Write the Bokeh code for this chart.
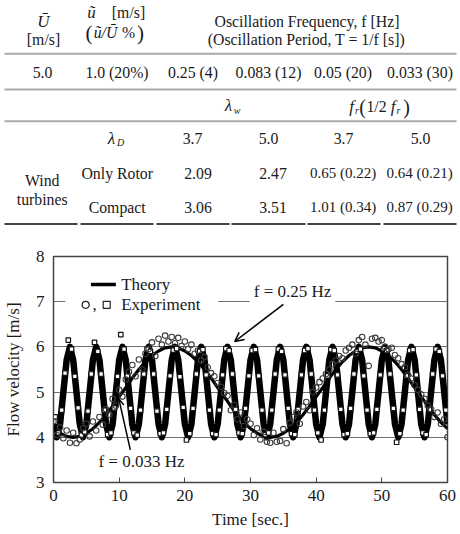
from bokeh.plotting import figure
from bokeh.layouts import column
from bokeh.models import Range1d, Label, Arrow, OpenHead, BoxAnnotation, FixedTicker
from bokeh.core.properties import value
from bokeh.embed import file_html
from bokeh.resources import INLINE

SERIF = "Liberation Serif"

# ---------------- table data ----------------
u_mean = "5.0"
u_amp = "1.0 (20%)"
freq_period = ["0.25 (4)", "0.083 (12)", "0.05 (20)", "0.033 (30)"]
lambda_d = ["3.7", "5.0", "3.7", "5.0"]
turbine_rows = ["Only Rotor", "Compact"]
only_rotor = ["2.09", "2.47", "0.65 (0.22)", "0.64 (0.21)"]
compact = ["3.06", "3.51", "1.01 (0.34)", "0.87 (0.29)"]

# ---------------- chart data ----------------
t_half = [0, 0.5, 1, 1.5, 2, 2.5, 3, 3.5, 4, 4.5, 5, 5.5, 6, 6.5, 7, 7.5, 8, 8.5, 9, 9.5,
          10, 10.5, 11, 11.5, 12, 12.5, 13, 13.5, 14, 14.5, 15, 15.5, 16, 16.5, 17, 17.5, 18, 18.5, 19, 19.5,
          20, 20.5, 21, 21.5, 22, 22.5, 23, 23.5, 24, 24.5, 25, 25.5, 26, 26.5, 27, 27.5, 28, 28.5, 29, 29.5,
          30, 30.5, 31, 31.5, 32, 32.5, 33, 33.5, 34, 34.5, 35, 35.5, 36, 36.5, 37, 37.5, 38, 38.5, 39, 39.5,
          40, 40.5, 41, 41.5, 42, 42.5, 43, 43.5, 44, 44.5, 45, 45.5, 46, 46.5, 47, 47.5, 48, 48.5, 49, 49.5,
          50, 50.5, 51, 51.5, 52, 52.5, 53, 53.5, 54, 54.5, 55, 55.5, 56, 56.5, 57, 57.5, 58, 58.5, 59, 59.5, 60]

# theory, f = 0.25 Hz
theory_025 = [4.29, 4.00, 4.29, 5.00, 5.71, 6.00, 5.71, 5.00, 4.29, 4.00, 4.29, 5.00, 5.71, 6.00, 5.71, 5.00,
              4.29, 4.00, 4.29, 5.00, 5.71, 6.00, 5.71, 5.00, 4.29, 4.00, 4.29, 5.00, 5.71, 6.00, 5.71, 5.00,
              4.29, 4.00, 4.29, 5.00, 5.71, 6.00, 5.71, 5.00, 4.29, 4.00, 4.29, 5.00, 5.71, 6.00, 5.71, 5.00,
              4.29, 4.00, 4.29, 5.00, 5.71, 6.00, 5.71, 5.00, 4.29, 4.00, 4.29, 5.00, 5.71, 6.00, 5.71, 5.00,
              4.29, 4.00, 4.29, 5.00, 5.71, 6.00, 5.71, 5.00, 4.29, 4.00, 4.29, 5.00, 5.71, 6.00, 5.71, 5.00,
              4.29, 4.00, 4.29, 5.00, 5.71, 6.00, 5.71, 5.00, 4.29, 4.00, 4.29, 5.00, 5.71, 6.00, 5.71, 5.00,
              4.29, 4.00, 4.29, 5.00, 5.71, 6.00, 5.71, 5.00, 4.29, 4.00, 4.29, 5.00, 5.71, 6.00, 5.71, 5.00,
              4.29, 4.00, 4.29, 5.00, 5.71, 6.00, 5.71, 5.00, 4.29]

# theory, f = 0.033 Hz
t_sec = [0, 1, 2, 3, 4, 5, 6, 7, 8, 9, 10, 11, 12, 13, 14, 15, 16, 17, 18, 19, 20,
         21, 22, 23, 24, 25, 26, 27, 28, 29, 30, 31, 32, 33, 34, 35, 36, 37, 38, 39, 40,
         41, 42, 43, 44, 45, 46, 47, 48, 49, 50, 51, 52, 53, 54, 55, 56, 57, 58, 59, 60]
theory_0033 = [4.19, 4.09, 4.02, 4.00, 4.02, 4.09, 4.19, 4.33, 4.50, 4.69, 4.90, 5.10, 5.31, 5.50, 5.67,
               5.81, 5.91, 5.98, 6.00, 5.98, 5.91, 5.81, 5.67, 5.50, 5.31, 5.10, 4.90, 4.69, 4.50, 4.33,
               4.19, 4.09, 4.02, 4.00, 4.02, 4.09, 4.19, 4.33, 4.50, 4.69, 4.90, 5.10, 5.31, 5.50, 5.67,
               5.81, 5.91, 5.98, 6.00, 5.98, 5.91, 5.81, 5.67, 5.50, 5.31, 5.10, 4.90, 4.69, 4.50, 4.33, 4.19]

# experiment (squares), f = 0.25 Hz
t_exp_025 = [0.25, 0.75, 1.25, 1.75, 2.25, 2.75, 3.25, 3.75, 4.25, 4.75, 5.25, 5.75, 6.25, 6.75, 7.25, 7.75,
             8.25, 8.75, 9.25, 9.75, 10.25, 10.75, 11.25, 11.75, 12.25, 12.75, 13.25, 13.75, 14.25, 14.75, 15.25, 15.75,
             16.25, 16.75, 17.25, 17.75, 18.25, 18.75, 19.25, 19.75, 20.25, 20.75, 21.25, 21.75, 22.25, 22.75, 23.25, 23.75,
             24.25, 24.75, 25.25, 25.75, 26.25, 26.75, 27.25, 27.75, 28.25, 28.75, 29.25, 29.75, 30.25, 30.75, 31.25, 31.75,
             32.25, 32.75, 33.25, 33.75, 34.25, 34.75, 35.25, 35.75, 36.25, 36.75, 37.25, 37.75, 38.25, 38.75, 39.25, 39.75,
             40.25, 40.75, 41.25, 41.75, 42.25, 42.75, 43.25, 43.75, 44.25, 44.75, 45.25, 45.75, 46.25, 46.75, 47.25, 47.75,
             48.25, 48.75, 49.25, 49.75, 50.25, 50.75, 51.25, 51.75, 52.25, 52.75, 53.25, 53.75, 54.25, 54.75, 55.25, 55.75,
             56.25, 56.75, 57.25, 57.75, 58.25, 58.75, 59.25, 59.75]
exp_025 = [4.45, 4.10, 4.60, 5.42, 6.15, 5.95, 5.35, 4.65, 4.05, 4.12, 4.58, 5.40, 6.10, 5.90, 5.40, 4.60,
           4.06, 4.10, 4.65, 5.35, 6.27, 5.95, 5.36, 4.64, 4.10, 4.05, 4.60, 5.40, 5.95, 5.90, 5.40, 4.58,
           4.08, 4.10, 4.62, 5.36, 5.93, 5.96, 5.34, 4.66, 3.94, 4.08, 4.64, 5.40, 5.90, 5.94, 5.38, 4.60,
           4.08, 4.06, 4.60, 5.38, 5.96, 5.92, 5.40, 4.62, 4.10, 4.08, 4.64, 5.36, 5.92, 5.94, 5.36, 4.60,
           4.06, 4.10, 4.60, 5.40, 5.95, 5.90, 5.38, 4.64, 4.08, 4.06, 4.62, 5.38, 5.92, 5.96, 5.40, 4.60,
           4.10, 3.94, 4.60, 5.36, 5.94, 5.92, 5.38, 4.62, 4.06, 4.08, 4.64, 5.40, 5.90, 5.95, 5.36, 4.60,
           4.08, 4.10, 4.62, 5.38, 5.96, 5.92, 5.40, 4.64, 3.89, 4.08, 4.60, 5.36, 5.92, 5.94, 5.38, 4.62,
           4.10, 4.06, 4.62, 5.40, 5.95, 5.90, 5.36, 4.60]

# experiment (circles), f = 0.033 Hz  (sampled on t_half)
exp_0033 = [4.35, 4.05, 4.22, 3.98, 4.15, 3.88, 4.10, 3.87, 3.95, 4.20, 4.30, 4.02, 4.35, 4.15, 4.45, 4.28,
            4.62, 4.50, 4.85, 4.70, 5.05, 4.90, 5.28, 5.45, 5.60, 5.35, 5.72, 5.50, 5.85, 5.95, 6.10, 5.80,
            6.18, 6.05, 6.25, 6.12, 6.22, 6.08, 6.20, 6.02, 6.12, 5.95, 6.05, 5.85, 5.92, 5.70, 5.78, 5.55,
            5.42, 5.35, 5.20, 5.12, 4.98, 4.92, 4.60, 4.72, 4.40, 4.55, 4.25, 4.40, 4.30, 4.05, 4.20, 3.95,
            4.12, 3.90, 3.88, 4.10, 3.90, 3.92, 4.18, 3.87, 4.32, 4.45, 4.55, 4.30, 4.68, 4.78, 4.60, 5.00,
            5.10, 5.22, 5.30, 5.40, 5.50, 5.62, 5.70, 5.80, 5.75, 5.92, 5.98, 6.05, 5.85, 6.15, 6.22, 6.05,
            5.58, 6.18, 6.20, 6.12, 6.15, 6.00, 5.95, 5.98, 5.82, 5.75, 5.62, 5.55, 5.38, 5.30, 5.15, 5.05,
            4.95, 4.85, 4.70, 4.62, 4.45, 4.55, 4.30, 4.40, 4.00]

x_ticks = [0, 10, 20, 30, 40, 50, 60]
y_ticks = [3, 4, 5, 6, 7, 8]

# ================= table =================
TXT = "#1a1a1a"
FS = "15.8px"
tb = figure(width=460, height=240, x_range=Range1d(0, 460), y_range=Range1d(240, 0),
            x_axis_type=None, y_axis_type=None, toolbar_location=None,
            output_backend="svg", min_border=0, frame_align=False)
tb.grid.visible = False
tb.outline_line_color = None


def txt(x, y, s, size=FS, style="normal", align="center"):
    tb.text(x=[x], y=[y], text=[s], text_font=value(SERIF), text_font_size=size,
            text_font_style=style, text_align=align, text_baseline="middle", text_color=TXT)


# column centres (layout)
col_x = [42, 116.5, 192.5, 268, 342.5, 419.5]
val_x = [197.5, 272.5, 342.5, 419]
val_fs = [FS, FS, "15px", "15px"]
lam_x = [192, 268, 343, 420]

# header
txt(43, 21, "Ū", size="17px", style="italic")
txt(43, 39, "[m/s]")
txt(91, 12, "ũ", size="17px", style="italic")
txt(128, 12, "[m/s]")
txt(88.5, 32, "(", size="21px")
txt(105, 32, "ũ/Ū", style="italic")
txt(128, 32, "%")
txt(140, 32, ")", size="21px")
txt(306.5, 21, "Oscillation Frequency, f [Hz]")
txt(306, 38.5, "(Oscillation Period, T = 1/f [s])")

# first data row
row1 = [u_mean, u_amp] + freq_period
for x, s in zip(col_x, row1):
    txt(x, 71.7, s)

# lambda header row
txt(228, 105, "λ", size="17px", style="italic")
txt(236.5, 110, "w", size="10px", style="italic")
txt(351, 106, "f", size="17px", style="italic")
txt(356.5, 110, "r", size="10px", style="italic")
txt(362, 106, "(", size="20px")
txt(376, 106, "1/2")
txt(392.5, 106, "f", size="17px", style="italic")
txt(398, 110, "r", size="10px", style="italic")
txt(406, 106, ")", size="20px")

# lambda_D row
txt(111, 137.5, "λ", size="17px", style="italic")
txt(120, 142, "D", size="10px", style="italic")
for x, s in zip(lam_x, lambda_d):
    txt(x, 138.3, s)

# turbines
txt(41.7, 180, "Wind")
txt(41.7, 199.3, "turbines")
for yy, name, vals in zip([172.7, 206.7], turbine_rows, [only_rotor, compact]):
    txt(116.7, yy, name)
    for x, s, fs in zip(val_x, vals, val_fs):
        txt(x, yy, s, size=fs)

# rules
tb.segment(x0=[4, 4, 4], y0=[53.3, 89, 120.7], x1=[456, 456, 456], y1=[53.3, 89, 120.7],
           line_color="#aaaaaa", line_width=2)
seg_l = [4, 80, 156, 231, 307, 383]
seg_r = [77, 153, 229, 305, 380, 456]
tb.segment(x0=seg_l, y0=[223.5] * 6, x1=seg_r, y1=[223.5] * 6, line_color="#444444", line_width=2)

# ================= chart =================
p = figure(width=460, height=294, x_range=Range1d(0, 60), y_range=Range1d(3, 8),
           toolbar_location=None, output_backend="svg", frame_align=False,
           min_border_left=53, min_border_right=13, min_border_top=16, min_border_bottom=52)
p.outline_line_color = "#444444"
p.outline_line_width = 1.5
p.xgrid.visible = False
p.ygrid.ticker = FixedTicker(ticks=y_ticks)
p.ygrid.grid_line_color = "#707070"
p.ygrid.grid_line_width = 1.2

p.xaxis.ticker = FixedTicker(ticks=x_ticks)
p.yaxis.ticker = FixedTicker(ticks=y_ticks)
p.xaxis.axis_label = "Time [sec.]"
p.yaxis.axis_label = "Flow velocity [m/s]"
for ax in (p.xaxis[0], p.yaxis[0]):
    ax.axis_label_text_font = SERIF
    ax.axis_label_text_font_size = "17px"
    ax.axis_label_text_font_style = "normal"
    ax.axis_label_text_color = TXT
    ax.major_label_text_font = SERIF
    ax.major_label_text_font_size = "17px"
    ax.major_label_text_color = TXT
    ax.axis_line_color = "#444444"
    ax.minor_tick_line_color = None
    ax.major_tick_line_color = "#444444"
p.xaxis.major_tick_in = 5
p.xaxis.major_tick_out = 0
p.xaxis.major_label_standoff = 7
p.xaxis.axis_label_standoff = 6
p.yaxis.major_tick_in = 0
p.yaxis.major_tick_out = 0
p.yaxis.major_label_standoff = 9
p.yaxis.axis_label_standoff = 10

# legend background (covers the 7 m/s grid line)
p.add_layout(BoxAnnotation(left=1.8, right=25.1, bottom=6.72, top=7.65, fill_color="white",
                           fill_alpha=1, line_color=None, level="underlay"))

p.line(t_half, theory_025, line_color="black", line_width=6.5, line_join="round")
p.line(t_sec, theory_0033, line_color="black", line_width=3.2)
p.scatter(t_exp_025, exp_025, marker="square", size=4.5, fill_color="white",
          line_color="#111111", line_width=1.2)
p.scatter(t_half, exp_0033, marker="circle", size=5.5, fill_color=None,
          line_color="#3a3a3a", line_width=1.1)

# legend
p.line(x=[5.7, 9.5], y=[7.38, 7.38], line_color="black", line_width=3.5)
p.scatter(x=[4.9], y=[6.93], marker="circle", size=7, fill_color="white", line_color="#222222", line_width=1.2)
p.scatter(x=[8.1], y=[6.93], marker="square", size=7, fill_color="white", line_color="#222222", line_width=1.2)
p.add_layout(Label(x=6.25, y=6.93, text=",", text_font=SERIF, text_font_size="17px",
                   text_align="center", text_baseline="middle", text_color=TXT))
p.add_layout(Label(x=10.3, y=7.38, text="Theory", text_font=SERIF, text_font_size="17px",
                   text_align="left", text_baseline="middle", text_color=TXT))
p.add_layout(Label(x=10.3, y=6.93, text="Experiment", text_font=SERIF, text_font_size="17px",
                   text_align="left", text_baseline="middle", text_color=TXT))

# annotations
p.add_layout(Label(x=36.4, y=7.23, text="f = 0.25 Hz", text_font=SERIF, text_font_size="17px",
                   text_align="center", text_baseline="middle", text_color=TXT,
                   background_fill_color="white", background_fill_alpha=1.0, padding=4))
p.add_layout(Arrow(end=OpenHead(size=9, line_width=1.5, line_color="black"),
                   x_start=35.0, y_start=6.94, x_end=27.6, y_end=6.12,
                   line_width=1.5, line_color="black"))
p.add_layout(Label(x=13.4, y=3.46, text="f = 0.033 Hz", text_font=SERIF, text_font_size="17px",
                   text_align="center", text_baseline="middle", text_color=TXT))
p.add_layout(Arrow(end=OpenHead(size=7, line_width=1.5, line_color="black"),
                   x_start=11.7, y_start=3.72, x_end=9.95, y_end=4.85,
                   line_width=1.5, line_color="black"))

layout = column(tb, p)
open("out.html", "w").write(file_html(layout, INLINE))
